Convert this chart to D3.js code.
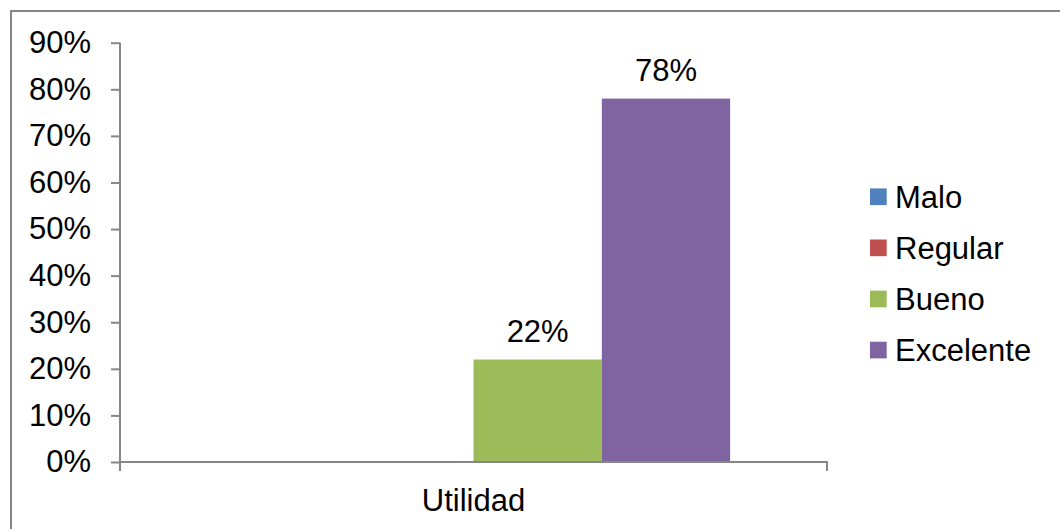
<!DOCTYPE html>
<html>
<head>
<meta charset="utf-8">
<script src="https://cdn.jsdelivr.net/npm/d3@7"></script>
<style>
  html, body { margin: 0; padding: 0; background: #fff; }
  svg { display: block; font-family: "Liberation Sans", Arial, sans-serif; }
</style>
</head>
<body>
<svg id="chart" width="1060" height="529"></svg>
<script>
// Survey results for "Utilidad"
const categories = ["Utilidad"];
const seriesNames = ["Malo", "Regular", "Bueno", "Excelente"];
const seriesValues = [0, 0, 0.22, 0.78];
const seriesColors = ["#4F81BD", "#C0504D", "#9BBB59", "#8064A2"];
const yTicks = [0, 0.1, 0.2, 0.3, 0.4, 0.5, 0.6, 0.7, 0.8, 0.9];

const svg = d3.select("#chart");
const axisColor = "#868686";
const fontSize = 31;

// chart area frame
svg.append("rect")
  .attr("x", 11).attr("y", 11)
  .attr("width", 1060).attr("height", 540)
  .attr("fill", "none")
  .attr("stroke", axisColor)
  .attr("stroke-width", 2);

const plot = { left: 120, right: 827, top: 42.7, bottom: 462 };

const y = d3.scaleLinear().domain([0, 0.9]).range([plot.bottom, plot.top]);
const x0 = d3.scaleBand().domain(categories).range([plot.left, plot.right]).padding(0);
const x1 = d3.scaleBand().domain(seriesNames).range([0, x0.bandwidth()])
  .paddingInner(0).paddingOuter(0.755);

// bars
const rows = seriesNames.map((s, i) => ({ name: s, value: seriesValues[i], color: seriesColors[i] }));
const group = svg.append("g").attr("transform", `translate(${x0(categories[0])},0)`);
group.selectAll("rect.bar")
  .data(rows.filter(d => d.value > 0))
  .join("rect")
  .attr("class", "bar")
  .attr("x", d => x1(d.name))
  .attr("y", d => y(d.value))
  .attr("width", x1.bandwidth())
  .attr("height", d => y(0) - y(d.value))
  .attr("fill", d => d.color);

// value labels
group.selectAll("text.val")
  .data(rows.filter(d => d.value > 0))
  .join("text")
  .attr("class", "val")
  .attr("x", d => x1(d.name) + x1.bandwidth() / 2)
  .attr("y", d => y(d.value) - 18)
  .attr("text-anchor", "middle")
  .attr("font-size", fontSize)
  .attr("fill", "#000")
  .text(d => d3.format(".0%")(d.value));

// y axis
const yAxis = d3.axisLeft(y).tickValues(yTicks).tickFormat(d3.format(".0%"))
  .tickSize(9).tickPadding(20);
const gy = svg.append("g").attr("transform", `translate(${plot.left},0)`).call(yAxis);
gy.select(".domain").attr("stroke", axisColor).attr("stroke-width", 2)
  .attr("d", `M0,${plot.top}V${plot.bottom + 9}`);
gy.selectAll(".tick line").attr("stroke", axisColor).attr("stroke-width", 2);
gy.selectAll(".tick text").attr("font-size", fontSize).attr("fill", "#000")
  .attr("font-family", "Liberation Sans, Arial, sans-serif");

// x axis
const gx = svg.append("g").attr("transform", `translate(0,${plot.bottom})`);
gx.append("path")
  .attr("d", `M${plot.left},0H${plot.right}V9`)
  .attr("fill", "none")
  .attr("stroke", axisColor)
  .attr("stroke-width", 2);
gx.selectAll("text.cat")
  .data(categories)
  .join("text")
  .attr("class", "cat")
  .attr("x", d => x0(d) + x0.bandwidth() / 2)
  .attr("y", 49)
  .attr("text-anchor", "middle")
  .attr("font-size", fontSize)
  .attr("fill", "#000")
  .text(d => d);

// legend
const legend = svg.append("g").attr("transform", "translate(870,0)");
const legendY = d3.scalePoint().domain(seriesNames).range([196.7, 350]);
const li = legend.selectAll("g.item").data(rows).join("g").attr("class", "item")
  .attr("transform", d => `translate(0,${legendY(d.name)})`);
li.append("rect").attr("x", 0).attr("y", -8.3).attr("width", 16.7).attr("height", 16.7)
  .attr("fill", d => d.color);
li.append("text").attr("x", 25).attr("y", 11).attr("font-size", fontSize).attr("fill", "#000")
  .text(d => d.name);
</script>
</body>
</html>
